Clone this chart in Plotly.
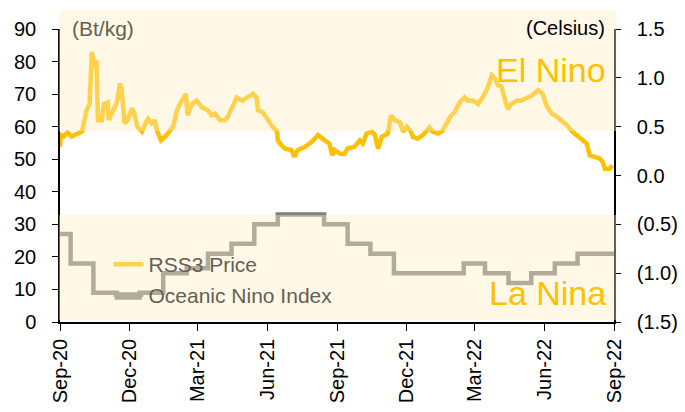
import plotly.graph_objects as go

# RSS3 price (Bt/kg)
price_dates = [
    "2020-09-01", "2020-09-02", "2020-09-06", "2020-09-11", "2020-09-16", "2020-09-22", "2020-09-27",
    "2020-09-30", "2020-10-06", "2020-10-10", "2020-10-13", "2020-10-17", "2020-10-19", "2020-10-21",
    "2020-10-26", "2020-10-29", "2020-11-03", "2020-11-04", "2020-11-10", "2020-11-15", "2020-11-19",
    "2020-11-21", "2020-11-25", "2020-11-29", "2020-12-05", "2020-12-08", "2020-12-12", "2020-12-18",
    "2020-12-23", "2020-12-26", "2020-12-31", "2021-01-04", "2021-01-07", "2021-01-12", "2021-01-17",
    "2021-01-24", "2021-01-28", "2021-02-02", "2021-02-06", "2021-02-14", "2021-02-16", "2021-02-22",
    "2021-02-28", "2021-03-07", "2021-03-15", "2021-03-20", "2021-03-24", "2021-03-31", "2021-04-06",
    "2021-04-10", "2021-04-16", "2021-04-22", "2021-04-29", "2021-05-03", "2021-05-09", "2021-05-13",
    "2021-05-18", "2021-05-20", "2021-05-26", "2021-06-02", "2021-06-08", "2021-06-14", "2021-06-15",
    "2021-06-20", "2021-06-24", "2021-07-03", "2021-07-07", "2021-07-11", "2021-07-21", "2021-07-30",
    "2021-08-07", "2021-08-16", "2021-08-22", "2021-08-26", "2021-08-29", "2021-09-05", "2021-09-11",
    "2021-09-15", "2021-09-24", "2021-10-01", "2021-10-05", "2021-10-10", "2021-10-17", "2021-10-21",
    "2021-10-25", "2021-10-30", "2021-11-07", "2021-11-11", "2021-11-16", "2021-11-23", "2021-11-27",
    "2021-12-02", "2021-12-07", "2021-12-10", "2021-12-16", "2021-12-23", "2022-01-01", "2022-01-05",
    "2022-01-12", "2022-01-18", "2022-01-24", "2022-01-28", "2022-02-03", "2022-02-10", "2022-02-16",
    "2022-02-20", "2022-02-27", "2022-03-06", "2022-03-12", "2022-03-19", "2022-03-24", "2022-03-28",
    "2022-04-01", "2022-04-06", "2022-04-10", "2022-04-14", "2022-04-19", "2022-04-26", "2022-05-02",
    "2022-05-09", "2022-05-16", "2022-05-24", "2022-05-30", "2022-06-04", "2022-06-11", "2022-06-18",
    "2022-06-24", "2022-07-01", "2022-07-08", "2022-07-14", "2022-07-21", "2022-07-27", "2022-07-31",
    "2022-08-07", "2022-08-13", "2022-08-17", "2022-08-20", "2022-08-26", "2022-08-30",
]
price_values = [
    53.8, 57.4, 57.0, 58.2, 57.0, 57.5, 57.9,
    58.5, 65.0, 67.0, 83.0, 78.0, 80.4, 62.0,
    62.0, 67.0, 67.5, 62.0, 65.0, 67.5, 73.2,
    71.8, 61.0, 62.0, 65.6, 64.0, 59.9, 58.5,
    61.3, 62.4, 61.0, 62.0, 58.7, 55.8, 56.8,
    58.7, 60.0, 65.0, 67.0, 70.1, 63.5, 67.0,
    68.0, 66.0, 65.0, 63.5, 64.0, 62.0, 62.0,
    63.0, 66.0, 69.0, 68.0, 68.5, 69.6, 70.1,
    69.0, 65.0, 64.5, 62.0, 60.0, 58.5, 55.8,
    54.2, 53.3, 52.8, 50.7, 52.8, 53.8, 55.4,
    57.4, 55.8, 54.8, 51.2, 52.8, 51.7, 51.7,
    53.3, 53.8, 55.8, 54.8, 57.9, 58.5, 57.4,
    53.3, 56.9, 57.9, 63.5, 62.0, 61.3, 58.5,
    60.0, 58.7, 56.9, 56.3, 57.4, 59.8, 58.5,
    57.9, 58.7, 61.0, 63.0, 64.5, 67.6, 69.0,
    68.0, 68.0, 67.0, 69.0, 72.2, 75.8, 74.8,
    72.8, 72.2, 68.5, 65.5, 67.0, 68.0, 68.0,
    69.0, 69.6, 71.2, 70.1, 66.5, 64.0, 63.0,
    62.0, 60.5, 58.5, 57.4, 56.3, 54.8, 51.2,
    50.7, 50.2, 49.2, 47.1, 47.1, 48.1,
]

# Oceanic Nino Index (Celsius), monthly steps
oni_dates = [
    "2020-09-01", "2020-09-15", "2020-10-15", "2020-11-15", "2020-12-15", "2021-01-15",
    "2021-02-15", "2021-03-15", "2021-04-15", "2021-05-15", "2021-06-15", "2021-07-15",
    "2021-08-15", "2021-09-15", "2021-10-15", "2021-11-15", "2021-12-15", "2022-01-15",
    "2022-02-15", "2022-03-15", "2022-04-15", "2022-05-15", "2022-06-15", "2022-07-15",
    "2022-09-01",
]
oni_values = [
    -0.6, -0.9, -1.2, -1.25, -1.2, -1.0,
    -0.95, -0.8, -0.7, -0.5, -0.4, -0.4,
    -0.5, -0.7, -0.8, -1.0, -1.0, -1.0,
    -0.9, -1.0, -1.1, -1.0, -0.9, -0.8,
    -0.8,
]

right_ticks = [1.5, 1.0, 0.5, 0.0, -0.5, -1.0, -1.5]
right_labels = ["1.5", "1.0", "0.5", "0.0", "(0.5)", "(1.0)", "(1.5)"]

FONT = "Liberation Sans, Arial, sans-serif"
GREY_TXT = "#665F55"

fig = go.Figure()
fig.add_trace(go.Scatter(x=price_dates, y=price_values, mode="lines", name="RSS3 Price",
                         line=dict(color="#FFC000", width=4.5), yaxis="y", showlegend=False))
fig.add_trace(go.Scatter(x=oni_dates, y=oni_values, mode="lines", name="Oceanic Nino Index",
                         line=dict(color="#7F7F7F", width=4.5, shape="hv"), yaxis="y2",
                         showlegend=False))
# legend entries (the legend sits under the cream band, so its colours are the tinted ones)
fig.add_trace(go.Scatter(x=[None], y=[None], mode="lines", name="RSS3 Price",
                         line=dict(color="#FFD34D", width=4.5)))
fig.add_trace(go.Scatter(x=[None], y=[None], mode="lines", name="Oceanic Nino Index",
                         line=dict(color="#B2AB99", width=4.5)))

# translucent cream bands drawn over everything (El Nino / La Nina zones)
band = dict(type="rect", xref="paper", yref="paper", layer="above",
            fillcolor="rgb(255,238,193)", opacity=0.4, line=dict(width=0))
fig.add_shape(x0=-0.002, x1=1.004, y0=0.652, y1=1.065, **band)
fig.add_shape(x0=-0.002, x1=1.004, y0=0.007, y1=0.365, **band)

# top rule
fig.add_shape(type="line", xref="paper", yref="paper", x0=-0.094, x1=1.13, y0=1.08, y1=1.08,
              line=dict(color="#6F6363", width=3))

fig.add_annotation(text="(Bt/kg)", xref="paper", yref="paper", x=0.018, y=1.003,
                   xanchor="left", yanchor="middle", showarrow=False,
                   font=dict(size=21, color=GREY_TXT))
fig.add_annotation(text="(Celsius)", xref="paper", yref="paper", x=0.987, y=1.003,
                   xanchor="right", yanchor="middle", showarrow=False,
                   font=dict(size=20, color="black"))
fig.add_annotation(text="El Nino", xref="paper", yref="paper", x=0.99, y=0.86,
                   xanchor="right", yanchor="middle", showarrow=False,
                   font=dict(size=34, color="#FFC000"))
fig.add_annotation(text="La Nina", xref="paper", yref="paper", x=0.99, y=0.099,
                   xanchor="right", yanchor="middle", showarrow=False,
                   font=dict(size=34, color="#FFC000"))

# page body has an 8px margin, so margins are shifted by that much
fig.update_layout(
    width=685, height=412,
    margin=dict(l=52, r=79, t=21, b=98),
    paper_bgcolor="white", plot_bgcolor="white",
    font=dict(family=FONT, size=20, color="black"),
    showlegend=True,
    legend=dict(x=0.0875, y=0.266, xanchor="left", yanchor="top", bgcolor="rgba(0,0,0,0)",
                font=dict(size=21, color=GREY_TXT), tracegroupgap=0),
    xaxis=dict(type="date", range=["2020-09-01", "2022-09-01"], tick0="2020-09-01", dtick="M3",
               tickformat="%b-%y", tickangle=-90, showgrid=False, zeroline=False,
               showline=True, linecolor="black", linewidth=1.5, automargin=False,
               ticks="outside", ticklen=7, tickcolor="black"),
    yaxis=dict(range=[0, 90], dtick=10, showgrid=False, zeroline=False,
               showline=True, linecolor="black", linewidth=1.5, automargin=False,
               ticks="outside", ticklen=6, tickcolor="black", ticklabelstandoff=12),
    yaxis2=dict(overlaying="y", side="right", range=[-1.5, 1.5],
                tickvals=right_ticks, ticktext=right_labels, showgrid=False, zeroline=False,
                showline=True, linecolor="black", linewidth=1.5, automargin=False,
                ticks="outside", ticklen=5, tickcolor="black", ticklabelstandoff=12),
)

fig.write_html("out.html")
